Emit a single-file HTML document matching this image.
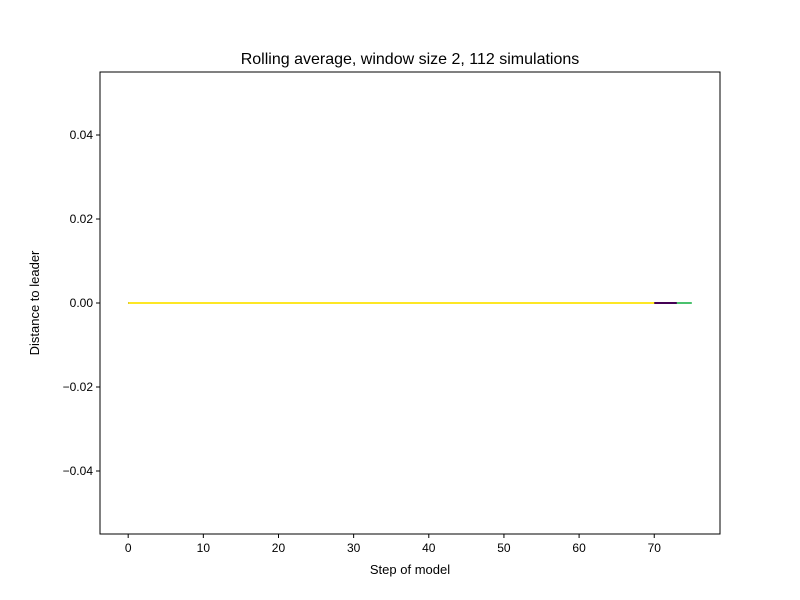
<!DOCTYPE html>
<html><head><meta charset="utf-8"><style>body{margin:0;background:#fff}svg{display:block;font-family:"Liberation Sans","DejaVu Sans",sans-serif}</style></head>
<body>
<svg id="chart" width="800" height="600">
<rect width="800" height="600" fill="#fff"/>
<text x="410" y="64" text-anchor="middle" font-size="16">Rolling average, window size 2, 112 simulations</text>
<g id="plot"></g>
<rect x="100" y="72" width="620" height="462" fill="none" stroke="#000" stroke-width="1"/>
<text x="410" y="574" text-anchor="middle" font-size="13">Step of model</text>
<text transform="translate(39,303) rotate(-90)" text-anchor="middle" font-size="13">Distance to leader</text>
</svg>
<script>
const xTicks=[0,10,20,30,40,50,60,70];
const yTicks=[-0.04,-0.02,0.00,0.02,0.04];
const yTickLabels=["−0.04","−0.02","0.00","0.02","0.04"];
const seriesColors=["#a0c8d0","#4ac16d","#440154","#fde725"];
const seriesLengths=[70,75,73,70];
const seriesValue=[0,0,0,0];
const L=100,R=720,T=72,B=534,xmin=-3.75,xmax=78.75,ymin=-0.055,ymax=0.055;
const sx=v=>L+(v-xmin)/(xmax-xmin)*(R-L);
const sy=v=>B-(v-ymin)/(ymax-ymin)*(B-T);
const ns="http://www.w3.org/2000/svg";
const g=document.getElementById('plot');
function mk(t,a){const e=document.createElementNS(ns,t);for(const k in a)e.setAttribute(k,a[k]);g.appendChild(e);return e;}
xTicks.forEach(v=>{
 const l=mk('line',{x1:sx(v),x2:sx(v),y1:B,y2:B+4,stroke:'#000'});
 
 
 const t=mk('text',{x:sx(v),y:B+18,'text-anchor':'middle','font-size':12});t.textContent=v;
 
 
});
yTicks.forEach((v,i)=>{
 const l=mk('line',{x1:L-4,x2:L,y1:sy(v),y2:sy(v),stroke:'#000'});
 
 
 const t=mk('text',{x:L-7,y:sy(v)+4,'text-anchor':'end','font-size':12});t.textContent=yTickLabels[i];
 
 
});
seriesLengths.forEach((n,i)=>{
 const pts=[];for(let s=0;s<=n;s++)pts.push(sx(s)+','+sy(seriesValue[i]));
 const p=mk('polyline',{points:pts.join(' '),fill:'none',stroke:seriesColors[i],'stroke-width':2});
 
 
});
</script>
</body></html>
